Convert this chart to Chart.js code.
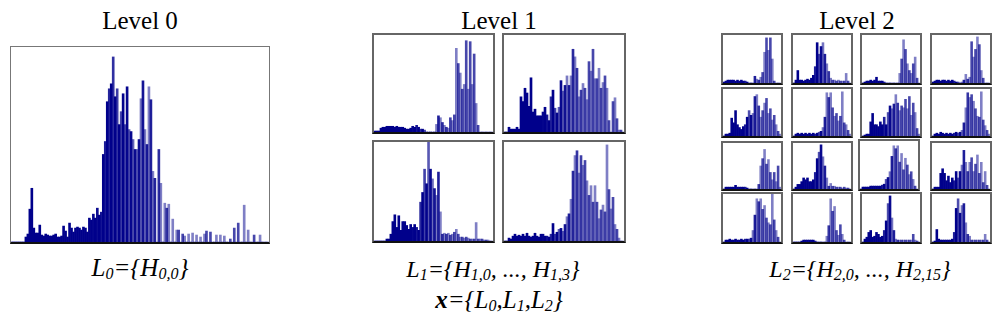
<!DOCTYPE html>
<html><head><meta charset="utf-8">
<script src="https://cdn.jsdelivr.net/npm/chart.js"></script>
<style>
html,body{margin:0;padding:0;background:#fff;}
body{width:1000px;height:321px;position:relative;overflow:hidden;font-family:"Liberation Serif","Times New Roman",serif;}
.box{position:absolute;box-sizing:border-box;border:2px solid #666;border-bottom-color:#111;background:#fff;}
.box canvas{display:block;}
.t{position:absolute;white-space:nowrap;transform:translateX(-50%);color:#000;}
.title{font-size:25px;line-height:25px;}
.lab{font-size:25px;line-height:25px;font-style:italic;}
.lab.s{font-size:24px;}
.lab sub{font-size:16px;vertical-align:baseline;position:relative;top:3px;line-height:0;}
</style></head>
<body>
<div class="t title" style="left:140px;top:8px;">Level 0</div>
<div class="t title" style="left:499px;top:8px;">Level 1</div>
<div class="t title" style="left:857px;top:8px;">Level 2</div>
<div class="t lab" style="left:140px;top:255px;">L<sub>0</sub>={H<sub>0,0</sub>}</div>
<div class="t lab s" style="left:493px;top:257px;">L<sub>1</sub>={H<sub>1,0</sub>, ..., H<sub>1,3</sub>}</div>
<div class="t lab s" style="left:860px;top:257px;">L<sub>2</sub>={H<sub>2,0</sub>, ..., H<sub>2,15</sub>}</div>
<div class="t lab" style="left:499px;top:287px;"><b>x</b>={L<sub>0</sub>,L<sub>1</sub>,L<sub>2</sub>}</div>
<script>
// ---- Level 0 histogram (bin heights) ----
const h00 = [0,0,0,0,0,0,0,5,8,33,54,14,9,9,17,7,6,8,7,6,6,7,8,5,5,6,16,11,5,19,
  14,10,14,15,14,12,15,14,10,24,22,28,24,34,27,30,88,101,141,154,159,186,146,154,118,131,149,118,156,113,
  111,103,93,93,103,144,162,113,98,156,143,71,64,0,93,59,0,39,34,38,0,23,0,12,12,0,8,6,0,8,
  0,9,0,7,0,5,0,8,11,0,10,0,0,7,0,7,0,6,0,0,3,0,14,0,19,0,0,37,0,12,
  0,0,7,0,0,7,0,0,0,0];
// ---- Level 1 histograms ----
const h10 = [1,1,1,4,5,5,6,6,6,6,5,6,5,5,5,4,3,3,4,6,5,7,5,3,3,2,0,0,0,0,
  0,8,17,15,10,7,5,4,15,12,18,88,72,62,45,50,96,45,95,50,82,30,7,0,0,0,0,0,0,0];
const h11 = [0,0,5,3,3,3,5,3,37,32,46,41,27,57,21,24,17,17,17,21,26,18,12,37,44,25,20,26,54,43,
  49,59,49,59,87,79,67,37,44,51,46,34,74,64,87,56,56,67,46,52,59,46,12,0,32,36,14,2,2,0];
const h12 = [0,0,0,0,0,0,2,2,7,20,27,14,26,11,20,20,16,12,17,14,17,14,11,40,50,74,59,102,74,64,
  54,47,71,30,7,8,7,8,6,7,9,12,7,4,4,3,4,3,2,2,2,19,2,2,2,1,1,1,0,0];
const h13 = [0,0,3,2,5,7,5,6,5,7,5,8,5,4,5,8,5,4,7,7,5,5,4,7,18,7,9,12,13,10,
  17,25,28,43,72,88,93,70,88,78,83,62,47,57,40,57,40,23,32,37,30,99,53,33,45,17,12,3,0,0];
// ---- Level 2 histograms ----
const h20 = [1,2,3,3,3,3,2,3,2,3,2,2,1,0,0,0,7,4,3,6,11,32,47,34,47,25,2,0,0,0];
const h21 = [0,3,13,3,3,2,3,4,3,5,8,17,42,30,38,42,30,20,12,5,3,3,2,3,2,2,2,10,2,0];
const h22 = [0,1,2,2,3,2,3,6,2,2,2,1,0,0,0,0,0,0,0,10,25,45,35,20,13,10,20,27,5,0];
const h23 = [1,2,3,3,2,3,3,2,3,2,3,2,1,1,0,1,3,9,4,6,43,27,35,48,40,13,5,0,0,0];
const h24 = [0,2,2,3,19,14,27,12,9,7,10,12,20,27,22,24,42,44,32,20,27,35,40,24,29,17,22,12,5,2];
const h25 = [0,2,3,2,3,2,3,2,3,2,3,2,3,4,5,9,20,46,41,46,30,21,24,16,21,47,14,12,6,2];
const h26 = [0,1,2,2,15,24,12,12,10,15,12,20,12,25,32,29,34,44,35,27,32,30,39,29,42,22,35,25,8,2];
const h27 = [0,2,3,2,4,3,2,3,2,3,2,3,4,3,4,6,14,30,46,41,44,37,29,21,20,47,17,11,6,2];
const h28 = [0,2,2,2,2,2,4,2,2,2,2,2,1,0,0,0,0,0,5,25,33,43,27,32,18,10,18,8,25,2];
const h29 = [0,2,5,5,8,12,10,12,8,8,10,18,33,40,48,35,25,12,3,6,3,3,2,2,2,1,2,1,1,0];
const h210 = [0,2,2,2,2,3,3,3,3,3,3,4,5,10,12,18,34,45,42,45,28,37,20,32,25,15,18,10,3,0];
const h211 = [0,2,2,2,17,22,17,9,14,7,12,9,19,12,19,26,42,29,19,29,34,19,27,37,17,29,7,19,4,0];
const h212 = [0,2,2,3,2,2,3,2,2,3,2,3,3,3,4,12,28,45,42,45,34,38,25,20,18,50,23,12,5,0];
const h213 = [0,0,0,0,1,2,2,2,2,2,2,1,0,0,0,0,0,6,17,45,32,37,12,7,18,8,2,0,0,0];
const h214 = [0,3,5,10,12,5,6,10,8,5,6,12,22,40,48,25,12,3,2,2,2,2,2,2,2,2,8,2,1,0];
const h215 = [0,1,13,3,2,2,2,2,2,2,3,10,35,45,30,38,40,20,8,6,2,2,2,2,2,2,2,8,2,0];

function smooth(a, b, x) { const t = Math.min(1, Math.max(0, (x - a) / (b - a))); return t * t * (3 - 2 * t); }
function barColor(ctx) {
  const n = ctx.chart.data.labels.length;
  const f = ctx.dataIndex / n;
  const alpha = ctx.dataIndex % 2
    ? 1 - 0.5 * smooth(0.28, 0.55, f)
    : 1 - 0.28 * smooth(0.4, 0.7, f);
  return 'rgba(0,0,139,' + alpha.toFixed(3) + ')';
}

function makeChart(values, left, top, width, height, yMax, bw) {
  const div = document.createElement('div');
  div.className = 'box';
  div.style.left = left + 'px'; div.style.top = top + 'px';
  div.style.width = width + 'px'; div.style.height = height + 'px';
  div.style.borderWidth = bw + 'px';
  div.style.borderBottomWidth = '2px';
  if (bw === 1) div.style.borderColor = '#777 #777 #111 #777';
  const cv = document.createElement('canvas');
  const iw = width - 2 * bw, ih = height - bw - 2;
  cv.width = iw; cv.height = ih;
  cv.style.width = iw + 'px'; cv.style.height = ih + 'px';
  div.appendChild(cv);
  document.body.appendChild(div);
  new Chart(cv, {
    type: 'bar',
    data: {
      labels: values.map((_, i) => i),
      datasets: [{
        data: values,
        backgroundColor: barColor,
        borderWidth: 0,
        barPercentage: 1,
        categoryPercentage: 1
      }]
    },
    options: {
      responsive: false,
      animation: false,
      events: [],
      layout: { padding: 0 },
      plugins: { legend: { display: false }, tooltip: { enabled: false } },
      scales: {
        x: { display: false },
        y: { display: false, min: 0, max: yMax }
      }
    }
  });
}

// Level 0
makeChart(h00, 10, 46, 260, 198, 196, 1);
// Level 1
makeChart(h10, 372, 33, 123, 101, 102, 2);
makeChart(h11, 502, 33, 124, 101, 102, 2);
makeChart(h12, 372, 140, 123, 103, 102, 2);
makeChart(h13, 502, 140, 124, 103, 102, 2);
// Level 2
const lv2 = [h20,h21,h22,h23,h24,h25,h26,h27,h28,h29,h210,h211,h212,h213,h214,h215];
const colX = [721, 791, 860, 930];
const rowY = [33, 87, 141, 192];
const rowH = [52, 51, 50, 52];
lv2.forEach((vals, i) => {
  const r = Math.floor(i / 4), c = i % 4;
  let x = colX[c], y = rowY[r], h = rowH[r];
  if (r === 2 && c === 2) { x -= 2; y -= 2; h += 2; }
  makeChart(vals, x, y, 62, h, 50, 2);
});
</script>
</body></html>
